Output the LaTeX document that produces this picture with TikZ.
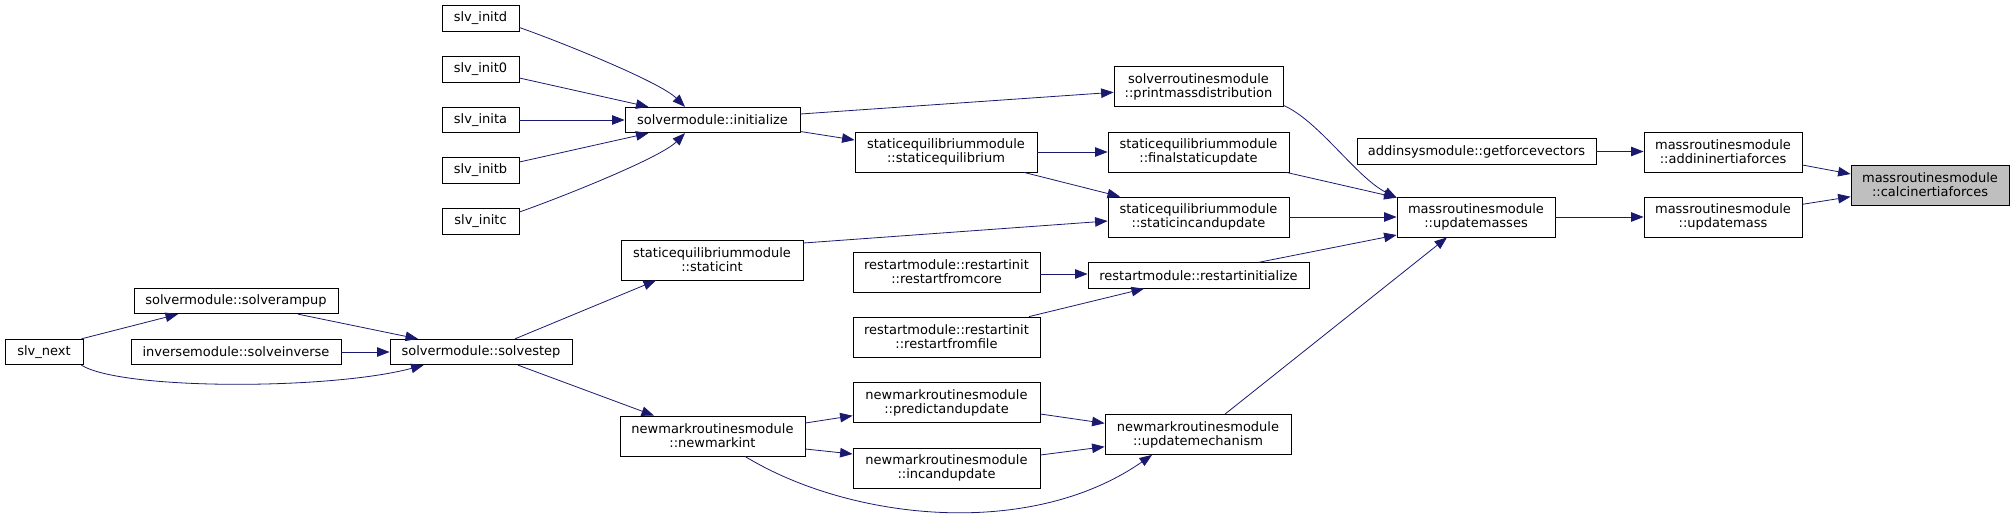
\documentclass[tikz,border=0pt]{standalone}
\usepackage{fontspec}
\setmainfont{DejaVu Sans}
\usetikzlibrary{arrows.meta,calc}
\definecolor{edgeblue}{HTML}{191970}
\definecolor{rootgray}{HTML}{BFBFBF}
\newcommand\dxfont{\fontsize{13}{14}\selectfont}
\tikzset{
  box/.style={draw=black, line width=0.8pt, fill=white, inner sep=0pt, minimum height=25.5pt, align=center, font=\dxfont},
  boxtwo/.style={box, minimum height=40pt},
  edge/.style={draw=edgeblue, line width=0.8pt, -{Triangle[length=12.5pt,width=9.5pt]}}
}
\begin{document}
\begin{tikzpicture}[x=1pt,y=1pt]
\useasboundingbox (0,0) rectangle (2015,-520);
% nodes
\node[box, minimum width=77pt] (initd) at (480.5,-18.5) {slv\_initd};
\node[box, minimum width=77pt] (init0) at (480.5,-69.5) {slv\_init0};
\node[box, minimum width=77pt] (inita) at (480.5,-120) {slv\_inita};
\node[box, minimum width=77pt] (initb) at (480.5,-170.5) {slv\_initb};
\node[box, minimum width=77pt] (initc) at (480.5,-221.5) {slv\_initc};
\node[box, minimum width=175pt] (initialize) at (712.5,-120) {solvermodule::initialize};
\node[boxtwo, minimum width=169pt] (printmass) at (1198.5,-86.5) {solverroutinesmodule\\::printmassdistribution};
\node[boxtwo, minimum width=182pt] (staticeq) at (946,-152) {staticequilibriummodule\\::staticequilibrium};
\node[boxtwo, minimum width=181pt] (finalstatic) at (1198.5,-152) {staticequilibriummodule\\::finalstaticupdate};
\node[boxtwo, minimum width=181pt] (staticinc) at (1198.5,-217) {staticequilibriummodule\\::staticincandupdate};
\node[boxtwo, minimum width=182pt] (staticint) at (712,-260) {staticequilibriummodule\\::staticint};
\node[boxtwo, minimum width=187pt] (fromcore) at (946.5,-272) {restartmodule::restartinit\\::restartfromcore};
\node[box, minimum width=221pt] (restartinit) at (1198.5,-275.5) {restartmodule::restartinitialize};
\node[boxtwo, minimum width=187pt] (fromfile) at (946.5,-337) {restartmodule::restartinit\\::restartfromfile};
\node[box, minimum width=239pt] (addinsys) at (1476.5,-151.5) {addinsysmodule::getforcevectors};
\node[boxtwo, minimum width=158pt] (addininertia) at (1723,-152) {massroutinesmodule\\::addininertiaforces};
\node[boxtwo, minimum width=158pt, fill=rootgray] (calcinertia) at (1930,-185) {massroutinesmodule\\::calcinertiaforces};
\node[boxtwo, minimum width=158pt] (updatemasses) at (1476,-217) {massroutinesmodule\\::updatemasses};
\node[boxtwo, minimum width=158pt] (updatemass) at (1723,-217) {massroutinesmodule\\::updatemass};
\node[box, minimum width=204pt] (solverampup) at (236,-301) {solvermodule::solverampup};
\node[box, minimum width=78pt] (slvnext) at (44,-352) {slv\_next};
\node[box, minimum width=210pt] (solveinverse) at (236,-352) {inversemodule::solveinverse};
\node[box, minimum width=182pt] (solvestep) at (481,-352) {solvermodule::solvestep};
\node[boxtwo, minimum width=185pt] (newmarkint) at (712.5,-436) {newmarkroutinesmodule\\::newmarkint};
\node[boxtwo, minimum width=187pt] (predict) at (946.5,-402.5) {newmarkroutinesmodule\\::predictandupdate};
\node[boxtwo, minimum width=187pt] (incand) at (946.5,-468) {newmarkroutinesmodule\\::incandupdate};
\node[boxtwo, minimum width=186pt] (updatemech) at (1198,-434.5) {newmarkroutinesmodule\\::updatemechanism};
% edges
\draw[edge] ([yshift=-9pt]initd.east) .. controls +(40,-14) and +(-25,25) .. ([xshift=-27.5pt]initialize.north);
\draw[edge] ([yshift=-8.5pt]init0.east) -- ([xshift=-64pt]initialize.north);
\draw[edge] (inita.east) -- (initialize.west);
\draw[edge] ([yshift=8.5pt]initb.east) -- ([xshift=-64pt]initialize.south);
\draw[edge] ([yshift=9.5pt]initc.east) .. controls +(40,14) and +(-25,-25) .. ([xshift=-27.5pt]initialize.south);
\draw[edge] ([yshift=6pt]initialize.east) -- ([yshift=-5.8pt]printmass.west);
\draw[edge] ([yshift=-11.5pt]initialize.east) -- ([yshift=12pt]staticeq.west);
\draw[edge] (staticeq.east) -- (finalstatic.west);
\draw[edge] ([xshift=78pt]staticeq.south) -- ([xshift=-78.5pt]staticinc.north);
\draw[edge] ([yshift=1.5pt]printmass.south east) .. controls +(35,-15) and +(-40,20) .. ([yshift=-1pt]updatemasses.north west);
\draw[edge] ([xshift=-3pt]finalstatic.south east) -- ([yshift=-1pt]updatemasses.north west);
\draw[edge] (staticinc.east) -- (updatemasses.west);
\draw[edge] ([xshift=60pt]restartinit.north) -- ([yshift=-18pt]updatemasses.west);
\draw[edge] ([xshift=27pt]updatemech.north) -- ([xshift=-29pt]updatemasses.south);
\draw[edge] ([yshift=17pt]staticint.east) -- ([yshift=-4pt]staticinc.west);
\draw[edge] ([yshift=-2pt]fromcore.east) -- ([yshift=1.5pt]restartinit.west);
\draw[edge] ([xshift=82.5pt]fromfile.north) -- ([xshift=-54.5pt]restartinit.south);
\draw[edge] ([xshift=-2pt]slvnext.north east) -- ([xshift=-58pt]solverampup.south);
\draw[edge] ([xshift=-2pt]slvnext.south east) .. controls +(40,-25) and +(-94,-25) .. ([xshift=-57.4pt]solvestep.south);
\draw[edge] ([xshift=62pt]solverampup.south) -- ([xshift=-63pt]solvestep.north);
\draw[edge] (solveinverse.east) -- (solvestep.west);
\draw[edge] ([xshift=34pt]solvestep.north) -- ([xshift=-56pt]staticint.south);
\draw[edge] ([xshift=37pt]solvestep.south) -- ([xshift=-58.5pt]newmarkint.north);
\draw[edge] ([yshift=13pt]newmarkint.east) -- ([yshift=-13.2pt]predict.west);
\draw[edge] ([yshift=-13pt]newmarkint.east) -- ([yshift=14pt]incand.west);
\draw[edge] ([xshift=32.5pt]newmarkint.south) .. controls +(105,-64) and +(-122,-85) .. ([xshift=-46pt]updatemech.south);
\draw[edge] ([yshift=-11.5pt]predict.east) -- ([yshift=11.2pt]updatemech.west);
\draw[edge] ([yshift=13pt]incand.east) -- ([yshift=-12.2pt]updatemech.west);
\draw[edge] (addinsys.east) -- (addinsys.east -| addininertia.west);
\draw[edge] ([yshift=-13pt]addininertia.east) -- ([yshift=11pt]calcinertia.west);
\draw[edge] (updatemasses.east) -- (updatemass.west);
\draw[edge] ([yshift=12.7pt]updatemass.east) -- ([yshift=-11.7pt]calcinertia.west);
\end{tikzpicture}
\end{document}
